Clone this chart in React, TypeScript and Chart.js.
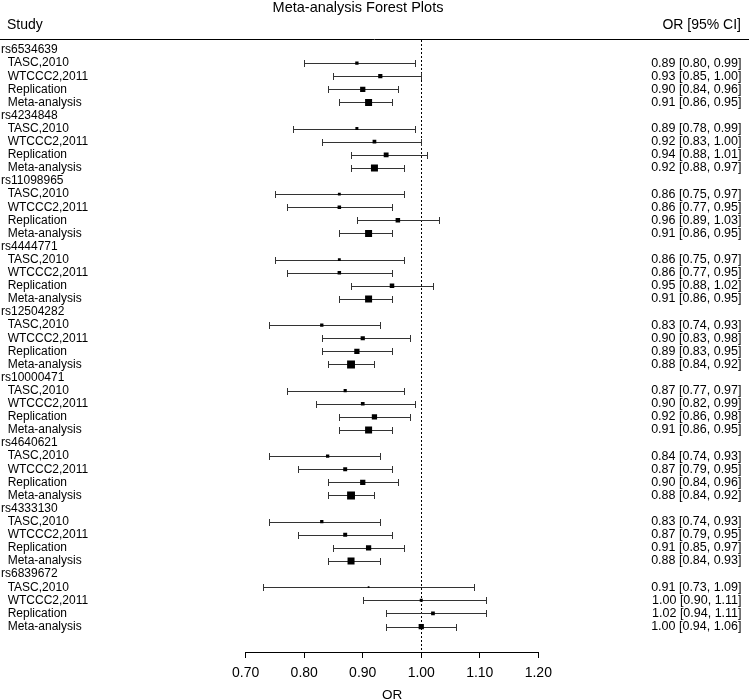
import React, { useEffect, useRef } from 'react';
import { Chart, registerables } from 'chart.js';

Chart.register(...registerables);

const FONT = '"Liberation Sans", Arial, Helvetica, sans-serif';

const snps = [
  'rs6534639', 'rs4234848', 'rs11098965', 'rs4444771', 'rs12504282',
  'rs10000471', 'rs4640621', 'rs4333130', 'rs6839672',
];
const studies = ['TASC,2010', 'WTCCC2,2011', 'Replication', 'Meta-analysis'];

const orTASC = [0.89, 0.89, 0.86, 0.86, 0.83, 0.87, 0.84, 0.83, 0.91];
const loTASC = [0.80, 0.78, 0.75, 0.75, 0.74, 0.77, 0.74, 0.74, 0.73];
const hiTASC = [0.99, 0.99, 0.97, 0.97, 0.93, 0.97, 0.93, 0.93, 1.09];

const orWTCCC2 = [0.93, 0.92, 0.86, 0.86, 0.90, 0.90, 0.87, 0.87, 1.00];
const loWTCCC2 = [0.85, 0.83, 0.77, 0.77, 0.83, 0.82, 0.79, 0.79, 0.90];
const hiWTCCC2 = [1.00, 1.00, 0.95, 0.95, 0.98, 0.99, 0.95, 0.95, 1.11];

const orRep = [0.90, 0.94, 0.96, 0.95, 0.89, 0.92, 0.90, 0.91, 1.02];
const loRep = [0.84, 0.88, 0.89, 0.88, 0.83, 0.86, 0.84, 0.85, 0.94];
const hiRep = [0.96, 1.01, 1.03, 1.02, 0.95, 0.98, 0.96, 0.97, 1.11];

const orMeta = [0.91, 0.92, 0.91, 0.91, 0.88, 0.91, 0.88, 0.88, 1.00];
const loMeta = [0.86, 0.88, 0.86, 0.86, 0.84, 0.86, 0.84, 0.84, 0.94];
const hiMeta = [0.95, 0.97, 0.95, 0.95, 0.92, 0.95, 0.92, 0.93, 1.06];

const xTicks = [0.7, 0.8, 0.9, 1.0, 1.1, 1.2];

const series = [
  { or: orTASC, lo: loTASC, hi: hiTASC },
  { or: orWTCCC2, lo: loWTCCC2, hi: hiWTCCC2 },
  { or: orRep, lo: loRep, hi: hiRep },
  { or: orMeta, lo: loMeta, hi: hiMeta },
];

type Row = { label: string; right: string; or?: number; lo?: number; hi?: number };
const rows: Row[] = [];
snps.forEach((snp, i) => {
  rows.push({ label: snp, right: '' });
  series.forEach((s, j) => {
    const or = s.or[i], lo = s.lo[i], hi = s.hi[i];
    rows.push({
      label: '  ' + studies[j],
      right: `${or.toFixed(2)} [${lo.toFixed(2)}, ${hi.toFixed(2)}]`,
      or, lo, hi,
    });
  });
});

const Y_MIN = -0.763;
const Y_MAX = rows.length - 1 + 1.946;

const errorBars = {
  id: 'errorBars',
  beforeDatasetsDraw(chart: any) {
    const { ctx, scales, chartArea } = chart;
    const x = scales.x, y = scales.y;
    ctx.save();
    ctx.strokeStyle = '#000';
    ctx.lineWidth = 1;
    ctx.setLineDash([2, 2]);
    const px = Math.round(x.getPixelForValue(1)) + 0.5;
    ctx.beginPath();
    ctx.moveTo(px, chartArea.top);
    ctx.lineTo(px, chartArea.bottom);
    ctx.stroke();
    ctx.setLineDash([]);
    ctx.strokeStyle = '#333';
    rows.forEach((r, i) => {
      if (r.or === undefined) return;
      const yy = Math.round(y.getPixelForValue(i)) + 0.5;
      const x1 = Math.round(x.getPixelForValue(r.lo)) + 0.5;
      const x2 = Math.round(x.getPixelForValue(r.hi)) + 0.5;
      ctx.beginPath();
      ctx.moveTo(x1, yy);
      ctx.lineTo(x2, yy);
      ctx.moveTo(x1, yy - 3.5);
      ctx.lineTo(x1, yy + 3.5);
      ctx.moveTo(x2, yy - 3.5);
      ctx.lineTo(x2, yy + 3.5);
      ctx.stroke();
    });
    ctx.restore();
  },
};

const headers = {
  id: 'headers',
  afterDraw(chart: any) {
    const { ctx, width } = chart;
    ctx.save();
    ctx.fillStyle = '#000';
    ctx.textBaseline = 'middle';
    ctx.font = `14.5px ${FONT}`;
    ctx.textAlign = 'center';
    ctx.fillText('Meta-analysis Forest Plots', 358, 7.5);
    ctx.font = `14px ${FONT}`;
    ctx.textAlign = 'left';
    ctx.fillText('Study', 7, 25);
    ctx.textAlign = 'right';
    ctx.fillText('OR [95% CI]', 741, 25);
    ctx.strokeStyle = '#000';
    ctx.lineWidth = 1;
    ctx.beginPath();
    ctx.moveTo(0, 39.5);
    ctx.lineTo(width, 39.5);
    ctx.stroke();
    ctx.restore();
  },
};

export default function App() {
  const ref = useRef<HTMLCanvasElement>(null);
  useEffect(() => {
    document.body.style.margin = '0';
    const canvas = ref.current;
    if (!canvas) return;
    const points: { x: number; y: number }[] = [];
    const radii: number[] = [];
    rows.forEach((r, i) => {
      if (r.or === undefined) return;
      points.push({ x: r.or, y: i });
      const side = 0.63 / ((r.hi as number) - (r.lo as number));
      radii.push(side / Math.SQRT2);
    });
    const chart = new Chart(canvas, {
      type: 'scatter',
      data: {
        datasets: [
          {
            data: points,
            pointStyle: 'rect',
            pointRadius: radii,
            pointHoverRadius: radii,
            backgroundColor: '#000',
            borderColor: '#000',
            pointBorderWidth: 0,
          } as any,
        ],
      },
      options: {
        animation: false,
        responsive: false,
        events: [],
        layout: { padding: { left: 1, right: 7.5, top: 40, bottom: 0 } },
        plugins: { legend: { display: false }, tooltip: { enabled: false }, title: { display: false } },
        scales: {
          x: {
            type: 'linear',
            min: 0.7,
            max: 1.2,
            afterBuildTicks: (s: any) => { s.ticks = xTicks.map((v) => ({ value: v })); },
            afterFit: (s: any) => { s.height = 48; },
            ticks: {
              callback: (v: any) => Number(v).toFixed(2),
              font: { size: 14, family: FONT },
              color: '#000',
              padding: 7,
              autoSkip: false,
              maxRotation: 0,
            },
            grid: { display: true, drawOnChartArea: false, drawTicks: true, tickLength: 6, color: '#000' },
            border: { display: true, color: '#000', width: 1 },
            title: {
              display: true,
              text: 'OR',
              color: '#000',
              font: { size: 13.5, family: FONT, lineHeight: 0.7 },
              padding: 0,
            },
          },
          y: {
            type: 'linear',
            position: 'left',
            reverse: true,
            min: Y_MIN,
            max: Y_MAX,
            afterBuildTicks: (s: any) => { s.ticks = rows.map((_, i) => ({ value: i })); },
            afterFit: (s: any) => { s.width = 244.7; },
            ticks: {
              callback: (v: any) => rows[Math.round(Number(v))]?.label ?? '',
              crossAlign: 'far',
              font: { size: 12, family: FONT },
              color: '#000',
              autoSkip: false,
              padding: 0,
            },
            grid: { display: false, drawTicks: false },
            border: { display: false },
          },
          y2: {
            type: 'linear',
            position: 'right',
            reverse: true,
            min: Y_MIN,
            max: Y_MAX,
            afterBuildTicks: (s: any) => { s.ticks = rows.map((_, i) => ({ value: i })); },
            afterFit: (s: any) => { s.width = 203.2; },
            ticks: {
              callback: (v: any) => rows[Math.round(Number(v))]?.right ?? '',
              crossAlign: 'far',
              font: { size: 12.5, family: FONT },
              color: '#000',
              autoSkip: false,
              padding: 0,
            },
            grid: { display: false, drawTicks: false },
            border: { display: false },
          },
        },
      } as any,
      plugins: [errorBars, headers],
    });
    return () => chart.destroy();
  }, []);
  return <canvas ref={ref} width={749} height={700} style={{ display: 'block' }} />;
}
